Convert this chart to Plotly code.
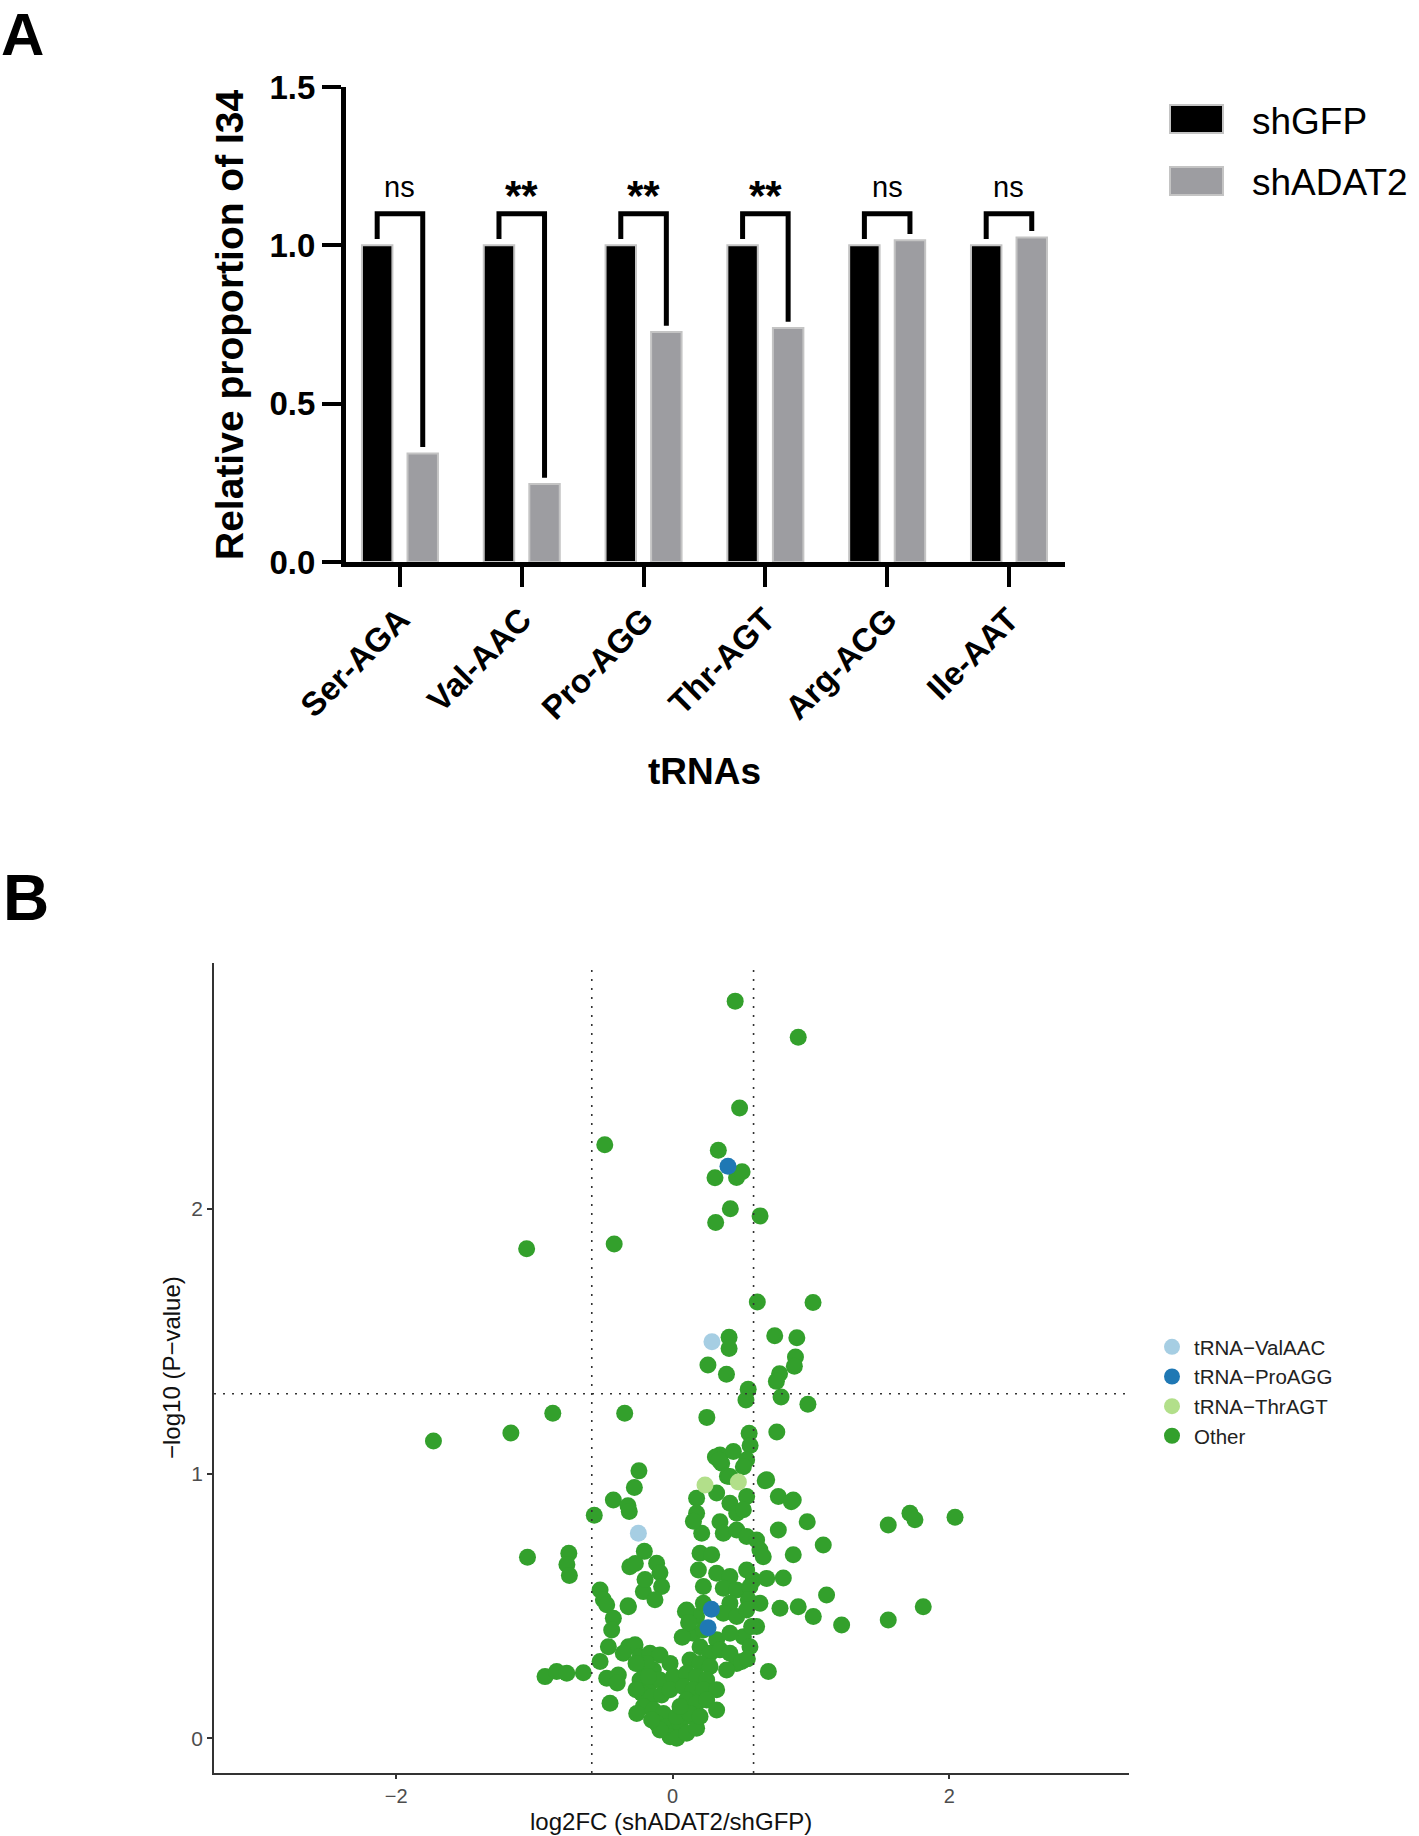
import plotly.graph_objects as go

W, H = 1419, 1836
FONT = "Liberation Sans, Arial, Helvetica, sans-serif"

# ---------------- Panel A data ----------------
categories = ["Ser-AGA", "Val-AAC", "Pro-AGG", "Thr-AGT", "Arg-ACG", "Ile-AAT"]
shGFP = [1.0, 1.0, 1.0, 1.0, 1.0, 1.0]
shADAT2 = [0.343, 0.246, 0.726, 0.739, 1.016, 1.025]
significance = ["ns", "**", "**", "**", "ns", "ns"]
a_yticks = [0.0, 0.5, 1.0, 1.5]
bracket_top = 1.10

# ---------------- Panel B data ----------------
other_x = [
    0.452, 0.908, 0.484, -0.491, 0.330, 0.306, 0.462, 0.502, 0.417, 0.632,
    0.311, -0.423, -1.056, 0.612, 1.015, 0.408, 0.408, 0.738, 0.898, 0.888,
    0.880, 0.255, 0.389, 0.773, 0.750, 0.546, 0.530, 0.784, 0.978, -0.867,
    -0.347, 0.247, -1.170, -1.730, 0.753, 0.553, 0.560, 0.342, 0.439, 0.535,
    0.354, 0.511, -0.244, 0.309, 0.337, 0.396, 0.669,
    -0.567, -0.429, -0.323, -0.314, -0.277,
    -0.205, -0.310, -0.270, -0.116, -0.092, -0.080, -0.212, -0.128, -0.200, -0.323,
    -0.525, -0.501, -0.477, -0.320, -0.429, -0.441, -0.465, -0.320, -0.272, -0.525,
    -0.477, -0.393, -0.453, -0.357, -0.401,
    -1.050, -0.751, -0.765, -0.747, -0.923, -0.839, -0.766, -0.646,
    -0.236, -0.164, -0.092, -0.212, -0.140, -0.236, -0.164, -0.092, -0.224, -0.152,
    -0.080, -0.212, -0.140, -0.067, -0.116, -0.043, 0.029, -0.019, 0.053, 0.101,
    -0.188, -0.176, -0.019, 0.005, -0.019, 0.029, -0.092, -0.152, -0.265, -0.265,
    -0.260, 0.029, 0.101, 0.173,
    0.101, 0.173, 0.222, 0.149, 0.222, 0.318, 0.198, 0.270, 0.342, 0.125,
    0.198, 0.270, 0.101, 0.173, 0.246, 0.077, 0.149, 0.222, 0.318, 0.101,
    0.173, 0.246, 0.125, 0.198, 0.053, 0.318, 0.092, 0.069, 0.115,
    0.342, 0.366, 0.210, 0.463, 0.535, 0.607, 0.631, 0.655, 0.198, 0.282,
    0.186, 0.318, 0.414, 0.535, 0.583, 0.680, 0.222, 0.366, 0.463, 0.559,
    0.631, 0.547, 0.414, 0.366, 0.463, 0.535, 0.607, 0.511, 0.414, 0.559,
    0.463, 0.414, 0.390, 0.499, 0.540, 0.571,
    0.414, 0.680, 0.318, 0.414, 0.535, 0.463, 0.511, 0.173, 0.173, 0.150,
    0.764, 0.872, 0.973, 0.764, 1.089, 1.559, 1.716, 1.752, 1.812, 1.559,
    1.222, 1.113, 1.017, 0.908, 0.776, 0.692, 0.872, 0.800, 2.042, 0.858,
]
other_y = [
    2.784, 2.648, 2.380, 2.242, 2.221, 2.117, 2.118, 2.140, 2.000, 1.973,
    1.948, 1.867, 1.849, 1.648, 1.646, 1.515, 1.472, 1.520, 1.513, 1.440,
    1.405, 1.410, 1.375, 1.377, 1.348, 1.318, 1.278, 1.289, 1.262, 1.228,
    1.228, 1.212, 1.153, 1.123, 1.157, 1.152, 1.106, 1.070, 1.083, 1.052,
    1.039, 1.026, 1.010, 1.062, 1.050, 0.990, 0.973,
    0.842, 0.900, 0.878, 0.857, 0.947,
    0.706, 0.648, 0.660, 0.661, 0.625, 0.573, 0.554, 0.523, 0.600, 0.501,
    0.560, 0.523, 0.504, 0.497, 0.453, 0.409, 0.346, 0.346, 0.353, 0.290,
    0.227, 0.239, 0.132, 0.321, 0.209,
    0.684, 0.699, 0.656, 0.615, 0.233, 0.252, 0.246, 0.248,
    0.309, 0.321, 0.315, 0.271, 0.258, 0.220, 0.208, 0.220, 0.170, 0.157,
    0.164, 0.120, 0.107, 0.094, 0.057, 0.044, 0.031, 0.006, 0.057, 0.082,
    0.283, 0.233, 0.283, 0.233, 0.183, 0.082, 0.031, 0.069, 0.283, 0.183,
    0.094, 0.000, 0.019, 0.038,
    0.485, 0.460, 0.510, 0.397, 0.409, 0.372, 0.346, 0.321, 0.334, 0.296,
    0.283, 0.271, 0.246, 0.233, 0.220, 0.195, 0.183, 0.183, 0.183, 0.145,
    0.132, 0.145, 0.094, 0.082, 0.120, 0.107, 0.479, 0.382, 0.436,
    0.818, 0.774, 0.774, 0.787, 0.762, 0.749, 0.711, 0.686, 0.699, 0.693,
    0.636, 0.623, 0.611, 0.636, 0.598, 0.604, 0.573, 0.567, 0.560, 0.573,
    0.510, 0.523, 0.510, 0.472, 0.460, 0.485, 0.422, 0.384, 0.397, 0.346,
    0.283, 0.321, 0.258, 0.290, 0.300, 0.422,
    0.989, 0.976, 0.926, 0.888, 0.913, 0.850, 0.863, 0.907, 0.850, 0.820,
    0.913, 0.900, 0.818, 0.787, 0.730, 0.806, 0.850, 0.825, 0.497, 0.447,
    0.428, 0.541, 0.460, 0.497, 0.491, 0.252, 0.693, 0.605, 0.835, 0.893,
]
val_x = [0.284, -0.248]
val_y = [1.498, 0.774]
pro_x = [0.400, 0.280, 0.256]
pro_y = [2.160, 0.487, 0.418]
thr_x = [0.234, 0.475]
thr_y = [0.957, 0.968]
fc_cut = 0.585     # log2(1.5)
p_cut = 1.301      # -log10(0.05)
b_xticks = [-2, 0, 2]
b_yticks = [0, 1, 2]

# ---------------- helpers ----------------
def px(x):
    return x / W

def py(y):
    return 1 - y / H

BAR_OFF = 0.187
BAR_W = 0.25
MS = 17
idx = list(range(len(categories)))

fig = go.Figure()

fig.add_trace(go.Bar(
    x=[i - BAR_OFF for i in idx], y=shGFP, width=BAR_W, name="shGFP",
    marker=dict(color="#000000", line=dict(color="#c4c4c4", width=2)),
    xaxis="x", yaxis="y", showlegend=False, hoverinfo="skip"))
fig.add_trace(go.Bar(
    x=[i + BAR_OFF for i in idx], y=shADAT2, width=BAR_W, name="shADAT2",
    marker=dict(color="#9d9da1", line=dict(color="#c4c4c4", width=2)),
    xaxis="x", yaxis="y", showlegend=False, hoverinfo="skip"))

# significance brackets
bx, by = [], []
for i in idx:
    bx += [i - BAR_OFF, i - BAR_OFF, i + BAR_OFF, i + BAR_OFF, None]
    by += [shGFP[i] + 0.02, bracket_top, bracket_top, shADAT2[i] + 0.02, None]
fig.add_trace(go.Scatter(
    x=bx, y=by, mode="lines", line=dict(color="black", width=5),
    xaxis="x", yaxis="y", showlegend=False, hoverinfo="skip", cliponaxis=False))

# ---------------- Panel B traces ----------------
fig.add_trace(go.Scatter(
    x=other_x, y=other_y, mode="markers", name="Other",
    marker=dict(color="#33a02c", size=MS, line=dict(width=0)),
    xaxis="x2", yaxis="y2", legendrank=4))
fig.add_trace(go.Scatter(
    x=val_x, y=val_y, mode="markers", name="tRNA\u2212ValAAC",
    marker=dict(color="#a6cee3", size=MS, line=dict(width=0)),
    xaxis="x2", yaxis="y2", legendrank=1))
fig.add_trace(go.Scatter(
    x=pro_x, y=pro_y, mode="markers", name="tRNA\u2212ProAGG",
    marker=dict(color="#1f78b4", size=MS, line=dict(width=0)),
    xaxis="x2", yaxis="y2", legendrank=2))
fig.add_trace(go.Scatter(
    x=thr_x, y=thr_y, mode="markers", name="tRNA\u2212ThrAGT",
    marker=dict(color="#b2df8a", size=MS, line=dict(width=0)),
    xaxis="x2", yaxis="y2", legendrank=3))

annotations = []
# significance labels
for i, s in enumerate(significance):
    if s == "ns":
        annotations.append(dict(x=i, y=1.183, xref="x", yref="y", text=s, showarrow=False,
                                xanchor="center", yanchor="middle",
                                font=dict(family=FONT, size=29, color="black")))
    else:
        annotations.append(dict(x=i, y=1.158, xref="x", yref="y", text=s, showarrow=False,
                                xanchor="center", yanchor="middle",
                                font=dict(family=FONT, size=42, color="black", weight="bold")))

# panel letters
annotations.append(dict(x=0, y=1, xref="paper", yref="paper", text="A", showarrow=False,
                        xanchor="left", yanchor="top", borderpad=0,
                        font=dict(family=FONT, size=60, color="black", weight="bold")))
annotations.append(dict(x=px(1), y=py(898), xref="paper", yref="paper", text="B", showarrow=False,
                        xanchor="left", yanchor="middle",
                        font=dict(family=FONT, size=64, color="black", weight="bold")))

# panel A titles
annotations.append(dict(x=px(229), y=py(324), xref="paper", yref="paper",
                        text="Relative proportion of I34", showarrow=False, textangle=-90,
                        xanchor="center", yanchor="middle",
                        font=dict(family=FONT, size=39, color="black", weight="bold")))
annotations.append(dict(x=px(704), y=py(771), xref="paper", yref="paper",
                        text="tRNAs", showarrow=False, xanchor="center", yanchor="middle",
                        font=dict(family=FONT, size=37, color="black", weight="bold")))

# panel A legend (text)
annotations.append(dict(x=px(1250), y=py(121), xref="paper", yref="paper", text="shGFP",
                        showarrow=False, xanchor="left", yanchor="middle",
                        font=dict(family=FONT, size=37, color="black")))
annotations.append(dict(x=px(1250), y=py(183), xref="paper", yref="paper", text="shADAT2",
                        showarrow=False, xanchor="left", yanchor="middle",
                        font=dict(family=FONT, size=37, color="black")))

# panel B titles
annotations.append(dict(x=px(671), y=0, xref="paper", yref="paper",
                        text="log2FC (shADAT2/shGFP)", showarrow=False,
                        xanchor="center", yanchor="bottom", borderpad=0,
                        font=dict(family=FONT, size=24, color="#111111")))
annotations.append(dict(x=px(171), y=py(1368), xref="paper", yref="paper",
                        text="\u2212log10 (P\u2212value)", showarrow=False, textangle=-90,
                        xanchor="center", yanchor="middle",
                        font=dict(family=FONT, size=24, color="#111111")))

shapes = [
    # legend swatches panel A
    dict(type="rect", xref="paper", yref="paper", x0=px(1170), x1=px(1223), y0=py(133), y1=py(105),
         fillcolor="#000000", line=dict(color="#c4c4c4", width=2)),
    dict(type="rect", xref="paper", yref="paper", x0=px(1170), x1=px(1223), y0=py(195), y1=py(167),
         fillcolor="#9d9da1", line=dict(color="#c4c4c4", width=2)),
    # threshold lines panel B
    dict(type="line", xref="x2", yref="y2 domain", x0=-fc_cut, x1=-fc_cut, y0=0, y1=1,
         line=dict(color="#333333", width=1.6, dash="2px,7px"), layer="above"),
    dict(type="line", xref="x2", yref="y2 domain", x0=fc_cut, x1=fc_cut, y0=0, y1=1,
         line=dict(color="#333333", width=1.6, dash="2px,7px"), layer="above"),
    dict(type="line", xref="x2 domain", yref="y2", x0=0, x1=1, y0=p_cut, y1=p_cut,
         line=dict(color="#333333", width=1.6, dash="2px,7px"), layer="above"),
]

fig.update_layout(
    width=W, height=H,
    margin=dict(l=0, r=0, t=0, b=0, autoexpand=False),
    paper_bgcolor="white", plot_bgcolor="white",
    barmode="overlay",
    font=dict(family=FONT, color="black"),
    showlegend=True,
    legend=dict(x=px(1150), y=py(1327), xanchor="left", yanchor="top",
                font=dict(family=FONT, size=20.5, color="#222222"),
                bgcolor="rgba(0,0,0,0)", itemwidth=34, tracegroupgap=0,
                traceorder="normal"),
    xaxis=dict(domain=[px(346), px(1065)], range=[-0.443, 5.46], anchor="y",
               tickmode="array", tickvals=idx, ticktext=categories, tickangle=-45,
               ticks="outside", ticklen=20, tickwidth=4, tickcolor="black",
               showline=True, linewidth=5, linecolor="black",
               showgrid=False, zeroline=False, automargin=False,
               tickfont=dict(family=FONT, size=33, color="black", weight="bold")),
    yaxis=dict(domain=[py(562), py(87)], range=[0, 1.5], anchor="x",
               tickmode="array", tickvals=a_yticks, tickformat=".1f",
               ticks="outside", ticklen=19, tickwidth=4, tickcolor="black",
               showline=True, linewidth=5, linecolor="black",
               showgrid=False, zeroline=False, automargin=False,
               tickfont=dict(family=FONT, size=33, color="black", weight="bold")),
    xaxis2=dict(domain=[px(214), px(1129)], range=[-3.317, 3.30], anchor="y2",
                tickmode="array", tickvals=b_xticks,
                ticks="outside", ticklen=4, tickwidth=1.5, tickcolor="#333333",
                showline=True, linewidth=1.6, linecolor="#333333",
                showgrid=False, zeroline=False, automargin=False,
                tickfont=dict(family=FONT, size=20, color="#4d4d4d")),
    yaxis2=dict(domain=[py(1773), py(963)], range=[-0.131, 2.928], anchor="x2",
                tickmode="array", tickvals=b_yticks,
                ticks="outside", ticklen=5, tickwidth=1.5, tickcolor="#333333",
                showline=True, linewidth=1.6, linecolor="#333333",
                showgrid=False, zeroline=False, automargin=False,
                tickfont=dict(family=FONT, size=21, color="#4d4d4d")),
    annotations=annotations,
    shapes=shapes,
)

fig.write_html("out.html")
